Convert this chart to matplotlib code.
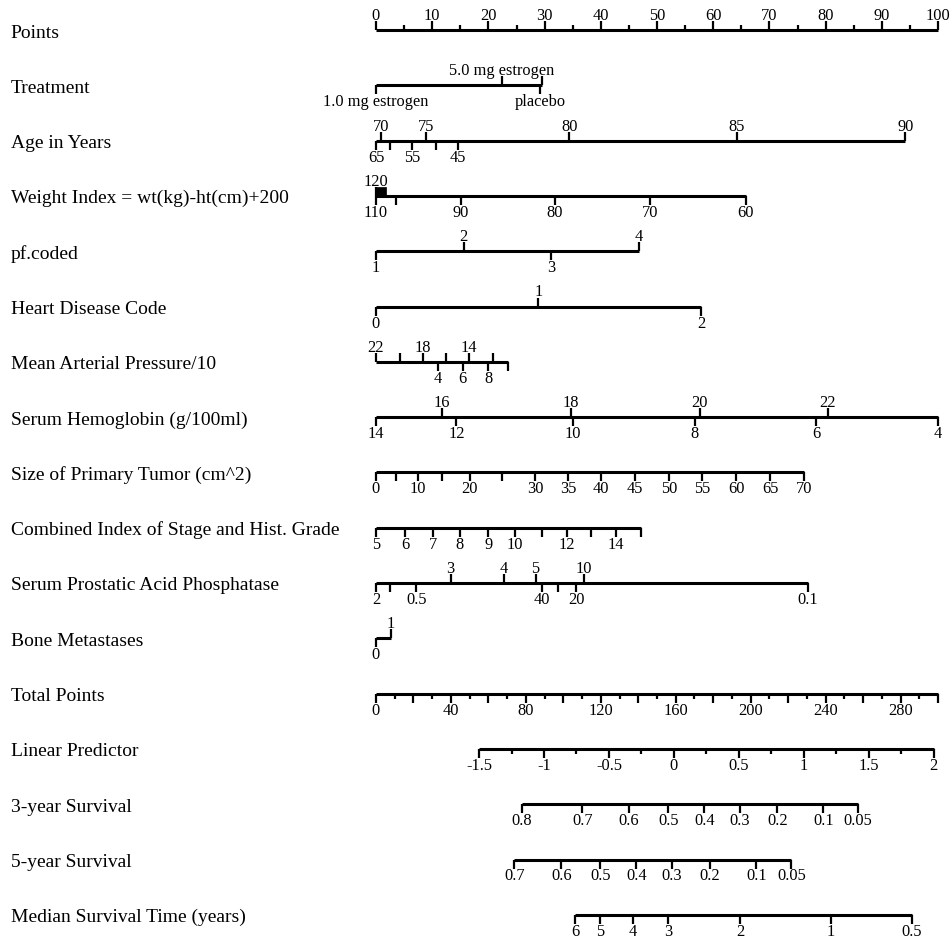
import matplotlib
matplotlib.use("Agg")
import matplotlib.pyplot as plt
from matplotlib.patches import Rectangle

plt.rcParams['font.family'] = ['Liberation Serif', 'DejaVu Serif']

# ---------------- data (positions are in "Points" units, 0..100) ----------------
row_labels = ["Points", "Treatment", "Age in Years", "Weight Index = wt(kg)-ht(cm)+200",
              "pf.coded", "Heart Disease Code", "Mean Arterial Pressure/10",
              "Serum Hemoglobin (g/100ml)", "Size of Primary Tumor (cm^2)",
              "Combined Index of Stage and Hist. Grade", "Serum Prostatic Acid Phosphatase",
              "Bone Metastases", "Total Points", "Linear Predictor", "3-year Survival",
              "5-year Survival", "Median Survival Time (years)"]

points_major = [0, 10, 20, 30, 40, 50, 60, 70, 80, 90, 100]
points_minor = [5, 15, 25, 35, 45, 55, 65, 75, 85, 95]

treat_top_labels = ["5.0 mg estrogen", ""]
treat_top_pos = [22.4, 29.6]
treat_bot_labels = ["1.0 mg estrogen", "placebo"]
treat_bot_pos = [0.0, 29.2]

age_top_labels = ["70", "75", "80", "85", "90"]
age_top_pos = [0.9, 8.9, 34.4, 64.2, 94.2]
age_bot_labels = ["65", "", "55", "", "45"]
age_bot_pos = [0.0, 2.5, 6.4, 10.6, 14.6]

weight_top_labels = ["120"]
weight_top_pos = [0.0]
weight_top_band = [0.0, 1.7]
weight_bot_labels = ["110", "", "90", "80", "70", "60"]
weight_bot_pos = [0.0, 3.5, 15.1, 31.8, 48.8, 65.8]

pf_top_labels = ["2", "4"]
pf_top_pos = [15.6, 46.75]
pf_bot_labels = ["1", "3"]
pf_bot_pos = [0.0, 31.1]

heart_top_labels = ["1"]
heart_top_pos = [28.9]
heart_bot_labels = ["0", "2"]
heart_bot_pos = [0.0, 57.9]

map_top_labels = ["22", "", "18", "", "14", ""]
map_top_pos = [0.0, 4.3, 8.4, 12.5, 16.6, 20.8]
map_bot_labels = ["4", "6", "8", ""]
map_bot_pos = [11.0, 15.4, 20.0, 23.4]

hgb_top_labels = ["16", "18", "20", "22"]
hgb_top_pos = [11.8, 34.7, 57.6, 80.4]
hgb_bot_labels = ["14", "12", "10", "8", "6", "4"]
hgb_bot_pos = [0.0, 14.3, 35.1, 56.7, 78.3, 100.0]

size_bot_labels = ["0", "", "10", "", "20", "", "30", "35", "40", "45", "50", "55", "60", "65", "70"]
size_bot_pos = [0.0, 3.6, 7.4, 11.7, 16.7, 22.4, 28.3, 34.2, 40.1, 46.1, 52.1, 58.0, 64.1, 70.1, 76.2]

sg_bot_labels = ["5", "6", "7", "8", "9", "10", "", "12", "", "14", ""]
sg_bot_pos = [0.0, 5.2, 10.1, 14.9, 20.0, 24.7, 29.5, 33.9, 38.2, 42.7, 47.2]

ap_top_labels = ["3", "4", "5", "10"]
ap_top_pos = [13.3, 22.8, 28.4, 37.0]
ap_bot_labels = ["2", "", "0.5", "40", "", "20", "0.1"]
ap_bot_pos = [0.0, 2.5, 7.2, 29.6, 32.4, 35.6, 76.8]

bone_top_labels = ["1"]
bone_top_pos = [2.6]
bone_bot_labels = ["0"]
bone_bot_pos = [0.0]

total_max = 300
total_labels = [0, 40, 80, 120, 160, 200, 240, 280]
total_major_unlab = [20, 60, 100, 140, 180, 220, 260, 300]
total_minor = [10, 30, 50, 70, 90, 110, 130, 150, 170, 190, 210, 230, 250, 270, 290]

lp_labels = [-1.5, -1, -0.5, 0, 0.5, 1, 1.5, 2]
lp_label_text = ["-1.5", "-1", "-0.5", "0", "0.5", "1", "1.5", "2"]
lp_minor = [-1.25, -0.75, -0.25, 0.25, 0.75, 1.25, 1.75]
lp_anchor_vals = [-1.5, 2.0]
lp_anchor_pos = [18.35, 99.2]

s3_labels = ["0.8", "0.7", "0.6", "0.5", "0.4", "0.3", "0.2", "0.1", "0.05"]
s3_pos = [25.9, 36.7, 45.0, 52.0, 58.4, 64.7, 71.4, 79.6, 85.8]
s5_labels = ["0.7", "0.6", "0.5", "0.4", "0.3", "0.2", "0.1", "0.05"]
s5_pos = [24.6, 33.0, 39.9, 46.3, 52.7, 59.4, 67.7, 73.9]
med_labels = ["6", "5", "4", "3", "2", "1", "0.5"]
med_pos = [35.4, 39.9, 45.7, 52.0, 64.8, 80.9, 95.3]

# ---------------- layout ----------------
W, H = 952, 939
X0_PX, X100_PX = 376.0, 938.0
PX_PER_PT = (X100_PX - X0_PX) / 100.0
ROW0, ROW_STEP = 30.0, 55.3
TICK = 9.0
MINOR = 5.0
LAB_FS = 14.0
TICK_FS = 11.8
LINE_LW = 2.2
TICK_LW = 1.6

fig = plt.figure(figsize=(W / 100, H / 100), dpi=100)
ax = fig.add_axes([0, 0, 1, 1])
ax.set_xlim(-X0_PX / PX_PER_PT, (W - X0_PX) / PX_PER_PT)
ax.set_ylim(H, 0)
ax.axis("off")

label_x = (10.5 - X0_PX) / PX_PER_PT


def row_y(i):
    return ROW0 + i * ROW_STEP


def hline(y, xs):
    ax.plot([min(xs), max(xs)], [y, y], color="black", lw=LINE_LW, solid_capstyle="butt")


def ticks(y, pos, labels, side, length=TICK):
    for p, lab in zip(pos, labels):
        if side == "top":
            ax.plot([p, p], [y, y - length], color="black", lw=TICK_LW, solid_capstyle="butt")
            if lab:
                ax.text(p, y - length - 1.0, lab, ha="center", va="baseline", fontsize=TICK_FS)
        else:
            ax.plot([p, p], [y, y + length], color="black", lw=TICK_LW, solid_capstyle="butt")
            if lab:
                ax.text(p, y + length + 12.0, lab, ha="center", va="baseline", fontsize=TICK_FS)


for i, lab in enumerate(row_labels):
    ax.text(label_x, row_y(i) + 7.5, lab, ha="left", va="baseline", fontsize=LAB_FS)

# Points
y = row_y(0)
hline(y, points_major)
ticks(y, points_major, [str(v) for v in points_major], "top")
ticks(y, points_minor, [""] * len(points_minor), "top", MINOR)

# variable scales
variables = [
    (treat_top_pos, treat_top_labels, treat_bot_pos, treat_bot_labels),
    (age_top_pos, age_top_labels, age_bot_pos, age_bot_labels),
    (weight_top_pos, weight_top_labels, weight_bot_pos, weight_bot_labels),
    (pf_top_pos, pf_top_labels, pf_bot_pos, pf_bot_labels),
    (heart_top_pos, heart_top_labels, heart_bot_pos, heart_bot_labels),
    (map_top_pos, map_top_labels, map_bot_pos, map_bot_labels),
    (hgb_top_pos, hgb_top_labels, hgb_bot_pos, hgb_bot_labels),
    ([], [], size_bot_pos, size_bot_labels),
    ([], [], sg_bot_pos, sg_bot_labels),
    (ap_top_pos, ap_top_labels, ap_bot_pos, ap_bot_labels),
    (bone_top_pos, bone_top_labels, bone_bot_pos, bone_bot_labels),
]
for k, (tp, tl, bp, bl) in enumerate(variables):
    y = row_y(k + 1)
    hline(y, list(tp) + list(bp))
    ticks(y, tp, tl, "top")
    ticks(y, bp, bl, "bottom")

# weight compressed region
yw = row_y(3)
ax.add_patch(Rectangle((weight_top_band[0], yw - TICK), weight_top_band[1] - weight_top_band[0], TICK,
                       facecolor="black", edgecolor="black", lw=0.5))

# Total points
y = row_y(12)
tp_lab = [v * 100.0 / total_max for v in total_labels]
tp_maj = [v * 100.0 / total_max for v in total_major_unlab]
tp_min = [v * 100.0 / total_max for v in total_minor]
hline(y, tp_lab + tp_maj)
ticks(y, tp_lab, [str(v) for v in total_labels], "bottom")
ticks(y, tp_maj, [""] * len(tp_maj), "bottom")
ticks(y, tp_min, [""] * len(tp_min), "bottom", MINOR)

# Linear predictor
slope = (lp_anchor_pos[1] - lp_anchor_pos[0]) / (lp_anchor_vals[1] - lp_anchor_vals[0])
lp_p = [lp_anchor_pos[0] + (v - lp_anchor_vals[0]) * slope for v in lp_labels]
lp_m = [lp_anchor_pos[0] + (v - lp_anchor_vals[0]) * slope for v in lp_minor]
y = row_y(13)
hline(y, lp_p)
ticks(y, lp_p, lp_label_text, "bottom")
ticks(y, lp_m, [""] * len(lp_m), "bottom", MINOR)

# survival scales
for k, (pos, labs) in enumerate([(s3_pos, s3_labels), (s5_pos, s5_labels), (med_pos, med_labels)]):
    y = row_y(14 + k)
    hline(y, pos)
    ticks(y, pos, labs, "bottom")

fig.savefig("out.png", dpi=100)
